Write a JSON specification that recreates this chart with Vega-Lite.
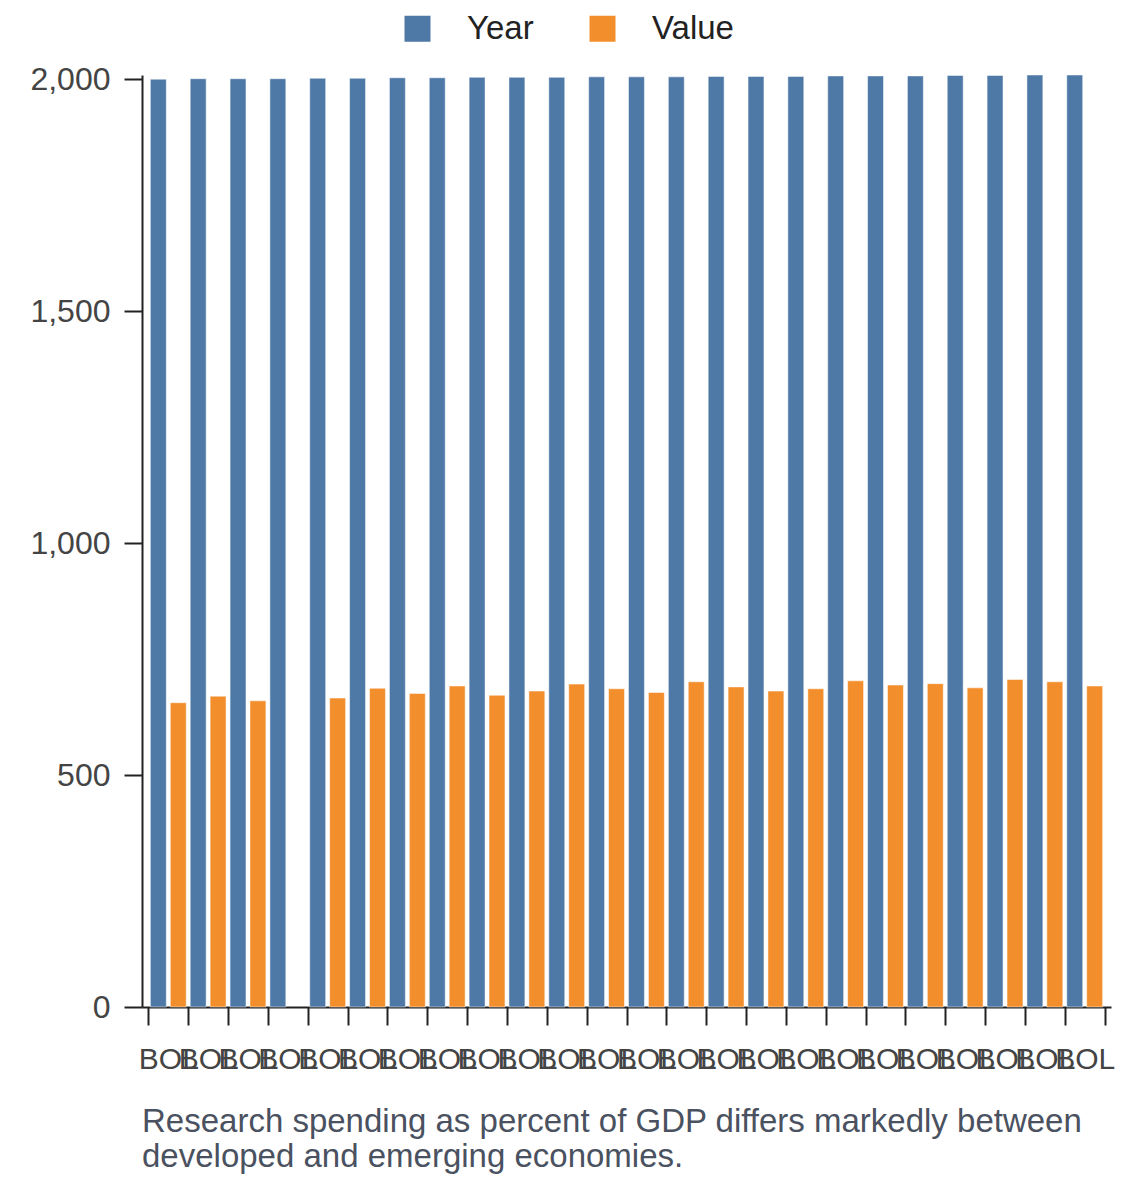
{
  "$schema": "https://vega.github.io/schema/vega-lite/v6.json",
  "width": 969,
  "height": 932,
  "autosize": {"type": "pad"},
  "padding": {"left": 29, "top": 12, "right": 5, "bottom": 5},
  "background": "white",
  "data": {
    "values": [
      {"key": "BOL 01", "Year": 2000, "Value": 656},
      {"key": "BOL 02", "Year": 2001, "Value": 670},
      {"key": "BOL 03", "Year": 2001, "Value": 660},
      {"key": "BOL 04", "Year": 2001, "Value": null},
      {"key": "BOL 05", "Year": 2002, "Value": 666},
      {"key": "BOL 06", "Year": 2002, "Value": 687},
      {"key": "BOL 07", "Year": 2003, "Value": 676},
      {"key": "BOL 08", "Year": 2003, "Value": 692},
      {"key": "BOL 09", "Year": 2004, "Value": 672},
      {"key": "BOL 10", "Year": 2004, "Value": 681},
      {"key": "BOL 11", "Year": 2004, "Value": 696},
      {"key": "BOL 12", "Year": 2005, "Value": 686},
      {"key": "BOL 13", "Year": 2005, "Value": 678},
      {"key": "BOL 14", "Year": 2005, "Value": 701},
      {"key": "BOL 15", "Year": 2006, "Value": 690},
      {"key": "BOL 16", "Year": 2006, "Value": 681},
      {"key": "BOL 17", "Year": 2006, "Value": 686},
      {"key": "BOL 18", "Year": 2007, "Value": 703},
      {"key": "BOL 19", "Year": 2007, "Value": 694},
      {"key": "BOL 20", "Year": 2007, "Value": 697},
      {"key": "BOL 21", "Year": 2008, "Value": 688},
      {"key": "BOL 22", "Year": 2008, "Value": 706},
      {"key": "BOL 23", "Year": 2009, "Value": 701},
      {"key": "BOL 24", "Year": 2009, "Value": 692}
    ]
  },
  "transform": [{"fold": ["Year", "Value"], "as": ["Series", "Amount"]}],
  "mark": {"type": "bar", "stroke": "white", "strokeWidth": 1, "strokeOpacity": 0.5},
  "encoding": {
    "x": {
      "field": "key",
      "type": "nominal",
      "sort": null,
      "scale": {"paddingInner": 0, "paddingOuter": 0.16},
      "axis": {
        "title": null,
        "labelExpr": "slice(datum.label, 0, 3)",
        "labelAngle": 0,
        "labelOverlap": false,
        "labelFontSize": 30,
        "labelFont": "Liberation Sans",
        "labelColor": "#444",
        "labelPadding": 19,
        "tickBand": "extent",
        "tickSize": 18,
        "tickWidth": 2,
        "tickColor": "#222",
        "domainColor": "#222",
        "domainWidth": 2
      }
    },
    "xOffset": {
      "field": "Series",
      "type": "nominal",
      "sort": ["Year", "Value"],
      "scale": {"paddingInner": 0.2, "paddingOuter": 0.1}
    },
    "y": {
      "field": "Amount",
      "type": "quantitative",
      "scale": {"nice": false, "zero": true},
      "axis": {
        "title": null,
        "values": [0, 500, 1000, 1500, 2000],
        "grid": false,
        "labelFontSize": 32,
        "labelFont": "Liberation Sans",
        "labelColor": "#444",
        "labelPadding": 14,
        "tickSize": 18,
        "tickWidth": 2,
        "tickColor": "#222",
        "domainColor": "#222",
        "domainWidth": 2
      }
    },
    "color": {
      "field": "Series",
      "type": "nominal",
      "scale": {"domain": ["Year", "Value"], "range": ["#4e79a7", "#f28e2b"]},
      "legend": {
        "title": null,
        "orient": "none",
        "direction": "horizontal",
        "legendX": 259,
        "legendY": -63,
        "symbolType": "square",
        "symbolSize": 676,
        "symbolStrokeWidth": 0,
        "labelFontSize": 33,
        "labelFont": "Liberation Sans",
        "labelColor": "#222",
        "labelOffset": 33,
        "columnPadding": 52
      }
    }
  },
  "title": {
    "text": ["Research spending as percent of GDP differs markedly between", "developed and emerging economies."],
    "orient": "bottom",
    "anchor": "start",
    "frame": "group",
    "offset": 32,
    "fontSize": 33,
    "lineHeight": 35,
    "font": "Liberation Sans",
    "fontWeight": "normal",
    "color": "#4a5160"
  },
  "config": {"view": {"stroke": null}}
}
